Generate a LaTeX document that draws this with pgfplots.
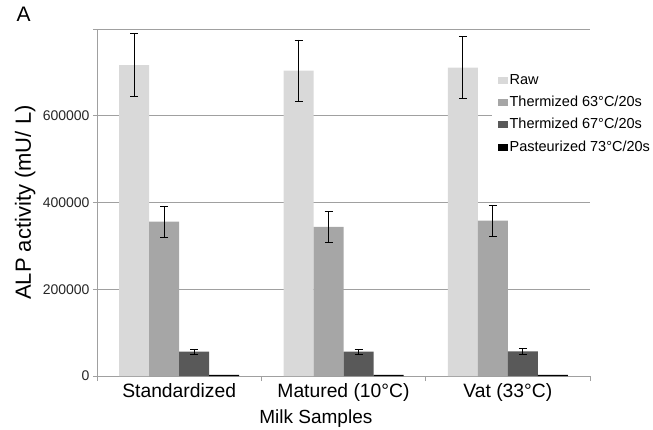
\documentclass[border=0pt]{standalone}
\usepackage{fontspec}
\setmainfont{Liberation Sans}
\usepackage{pgfplots}
\pgfplotsset{compat=1.18}

\definecolor{rawc}{HTML}{D9D9D9}
\definecolor{thermA}{HTML}{A6A6A6}
\definecolor{thermB}{HTML}{595959}
\definecolor{pastc}{HTML}{000000}
\definecolor{axgray}{HTML}{A0A0A0}

\begin{document}
\begin{tikzpicture}
\useasboundingbox (-97bp,-54bp) rectangle (556bp,376bp);
\node[anchor=base west, font=\fontsize{21bp}{24bp}\selectfont] at (-84bp,354bp) {A};
\begin{axis}[
  at={(0,0)}, anchor=south west,
  scale only axis, width=493bp, height=347bp,
  ybar=0pt, bar width=30bp,
  xmin=-0.5, xmax=2.5, ymin=0, ymax=800000,
  axis x line=bottom, axis y line=left,
  axis line style={-, draw=axgray, line width=0.8bp},
  xtick={0,1,2},
  xticklabels={Standardized, Matured (10°C), Vat (33°C)},
  minor xtick={-0.5,0.5,1.5,2.5},
  major x tick style={draw=none},
  minor x tick style={draw=axgray, line width=0.8bp},
  minor tick length=5bp,
  ytick={0,200000,400000,600000,800000},
  yticklabels={0,200000,400000,600000,{}},
  y tick style={draw=axgray, line width=0.8bp},
  major tick length=4bp,
  tick align=outside,
  scaled y ticks=false,
  ymajorgrids,
  grid style={draw=axgray, line width=0.8bp},
  xticklabel style={font=\fontsize{19.3bp}{22bp}\selectfont},
  yticklabel style={font=\fontsize{14bp}{16bp}\selectfont, text=black!85},
  xlabel={Milk Samples},
  xlabel style={at={(rel axis cs:0.444,-0.138)}, anchor=base,
    font=\fontsize{19bp}{22bp}\selectfont},
  ylabel={ALP activity (mU/ L)},
  ylabel style={at={(rel axis cs:-0.134,0.5)}, anchor=base,
    font=\fontsize{22bp}{26bp}\selectfont},
  every axis plot post/.append style={
    legend image code/.code={\fill[##1] (0bp,-3.5bp) rectangle (10bp,3.5bp);}},
  legend style={at={(rel axis cs:0.80,0.888)}, anchor=north west,
    fill=white, draw=none, inner xsep=6bp, inner ysep=4bp,
    row sep=6.4bp,
    font=\fontsize{14.5bp}{16bp}\selectfont,
    nodes={text height=11bp, text depth=3bp, inner ysep=1bp, inner xsep=2bp},
    cells={anchor=west}},
  error bars/error bar style={black, line width=0.7bp},
  error bars/error mark options={black, rotate=90, mark size=4bp, line width=0.7bp},
]
% Raw milk
\addplot[fill=rawc, draw=none,
  error bars/.cd, y dir=both, y explicit]
  coordinates {(0,717000) +- (0,72000) (1,704000) +- (0,71000) (2,711000) +- (0,71000)};
% Thermized 63 C / 20 s
\addplot[fill=thermA, draw=none,
  error bars/.cd, y dir=both, y explicit]
  coordinates {(0,356000) +- (0,36000) (1,344000) +- (0,35000) (2,358000) +- (0,36000)};
% Thermized 67 C / 20 s
\addplot[fill=thermB, draw=none,
  error bars/.cd, y dir=both, y explicit]
  coordinates {(0,56000) +- (0,6000) (1,56000) +- (0,5000) (2,57000) +- (0,6500)};
% Pasteurized 73 C / 20 s
\addplot[fill=pastc, draw=none]
  coordinates {(0,2500) (1,2500) (2,2500)};
\legend{Raw, Thermized 63°C/20s, Thermized 67°C/20s, Pasteurized 73°C/20s}
\end{axis}
\end{tikzpicture}
\end{document}
